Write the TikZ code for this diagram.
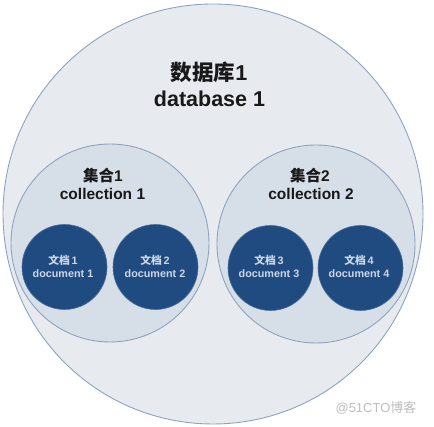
\documentclass[tikz,border=0pt]{standalone}
\usepackage{fontspec}
\setmainfont{Liberation Sans}
\newfontfamily\cjk{Noto Sans CJK SC}
\definecolor{dbfill}{RGB}{231,235,240}
\definecolor{colfill}{RGB}{214,222,231}
\definecolor{docfill}{RGB}{31,75,128}
\definecolor{ringline}{RGB}{143,163,190}
\definecolor{doctext}{RGB}{205,214,228}
\definecolor{darktext}{RGB}{25,25,25}
\definecolor{wmark}{RGB}{190,190,190}
\tikzset{
  ring/.style={circle, inner sep=0pt, draw=ringline, line width=0.9pt},
  dbring/.style={ring, fill=dbfill, minimum size=420pt},
  colring/.style={ring, fill=colfill, minimum size=198pt},
  docring/.style={circle, inner sep=0pt, fill=docfill, draw=docfill!80!white, line width=0.6pt, minimum size=85pt},
  bigtxt/.style={inner sep=0pt, text=darktext, font=\fontsize{21.5}{21.5}\selectfont\bfseries},
  midtxt/.style={inner sep=0pt, text=darktext, font=\fontsize{15.5}{15.5}\selectfont\bfseries},
  smalltxt/.style={inner sep=0pt, text=doctext, font=\fontsize{10.8}{10.8}\selectfont\bfseries},
}
\begin{document}
\begin{tikzpicture}[x=1pt,y=1pt]
\useasboundingbox (0,0) rectangle (434,427);
\fill[white] (0,0) rectangle (434,427);
\node[dbring] (db) at (213,213) {};
\node[colring] (c1) at (110,184) {};
\node[colring] (c2) at (316,183) {};
\node[docring] (d1) at (64.5,160) {};
\node[docring] (d2) at (155.5,160) {};
\node[docring] (d3) at (270.5,159) {};
\node[docring] (d4) at (360.5,159) {};
\node[bigtxt] (dbzh) at (209,355) {{\cjk\bfseries 数据库}1};
\node[bigtxt] (dben) at (209.5,328) {database 1};
\node[midtxt] (c1zh) at (103,251) {{\cjk\bfseries 集合}1};
\node[midtxt] (c1en) at (102.5,233) {collection 1};
\node[midtxt] (c2zh) at (310,251) {{\cjk\bfseries 集合}2};
\node[midtxt] (c2en) at (311,233) {collection 2};
\node[smalltxt] (d1zh) at (63,167) {{\cjk\bfseries 文档}\,1};
\node[smalltxt] (d1en) at (63,153) {document 1};
\node[smalltxt] (d2zh) at (155,167) {{\cjk\bfseries 文档}\,2};
\node[smalltxt] (d2en) at (155,153) {document 2};
\node[smalltxt] (d3zh) at (269,167) {{\cjk\bfseries 文档}\,3};
\node[smalltxt] (d3en) at (269,153) {document 3};
\node[smalltxt] (d4zh) at (359,167) {{\cjk\bfseries 文档}\,4};
\node[smalltxt] (d4en) at (359,153) {document 4};
\node[inner sep=0pt, text=wmark, font=\fontsize{13}{13}\selectfont] (wm) at (376,19) {@51CTO{\cjk 博客}};
\end{tikzpicture}
\end{document}
